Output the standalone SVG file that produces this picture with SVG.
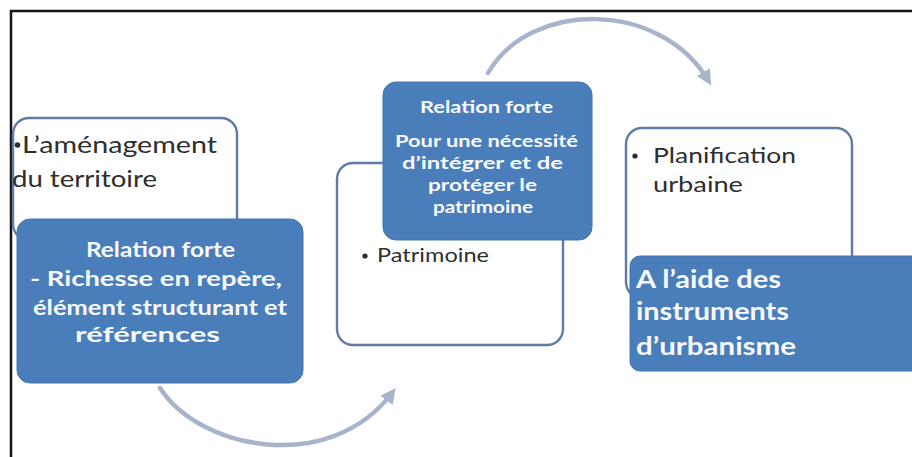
<svg xmlns="http://www.w3.org/2000/svg" width="912" height="457" viewBox="0 0 912 457">
  <defs>
    <style>
      .frame { stroke: #151515; stroke-width: 2.5; fill: none; }
      .wbox { fill: #ffffff; stroke: #5f7ca6; stroke-width: 2.4; }
      .bbox { fill: #4a7ebb; stroke: #4275b0; stroke-width: 1; }
      .wt { font-family: Lato, "Liberation Sans", sans-serif; fill: #2e2e2e; }
      .bt { font-family: Lato, "Liberation Sans", sans-serif; font-weight: bold; fill: #f7f9fc; }
      .arc { fill: none; stroke: #a9b3c9; stroke-width: 4.5; stroke-linecap: round; }
    </style>
    <marker id="ah" viewBox="0 0 10 10" refX="6" refY="5" markerWidth="3.4" markerHeight="3.4" orient="auto" markerUnits="strokeWidth">
      <path d="M0,0 L10,5 L0,10 z" fill="#a9b3c9"/>
    </marker>
  </defs>

  <rect width="912" height="457" fill="#ffffff"/>
  <path class="frame" d="M11,457 L11,11 L912,11"/>

  <g id="connectors">
    <path class="arc" d="M160,388 C200,450 330,475 392,393" marker-end="url(#ah)"/>
    <path class="arc" d="M488,73 C530,0 660,0 708,80" marker-end="url(#ah)"/>
  </g>

  <g id="node-amenagement">
    <rect class="wbox" x="13" y="118" width="224" height="122" rx="16"/>
    <circle cx="17.5" cy="145" r="2.8" fill="#2e2e2e"/>
    <text class="wt" x="22" y="153" font-size="24" textLength="195" lengthAdjust="spacingAndGlyphs">L’aménagement</text>
    <text class="wt" x="12" y="187" font-size="24" textLength="145" lengthAdjust="spacingAndGlyphs">du territoire</text>
  </g>

  <g id="node-relation1">
    <rect class="bbox" x="17" y="219" width="286" height="164" rx="13"/>
    <text class="bt" x="86" y="257" font-size="21" textLength="149" lengthAdjust="spacingAndGlyphs">Relation forte</text>
    <text class="bt" x="30" y="286" font-size="21" textLength="252" lengthAdjust="spacingAndGlyphs">- Richesse en repère,</text>
    <text class="bt" x="33" y="315" font-size="21" textLength="254" lengthAdjust="spacingAndGlyphs">élément structurant et</text>
    <text class="bt" x="75" y="342" font-size="21" textLength="145" lengthAdjust="spacingAndGlyphs">références</text>
  </g>

  <g id="node-patrimoine">
    <rect class="wbox" x="337" y="163" width="226" height="182" rx="16"/>
    <circle cx="365" cy="256" r="2.6" fill="#2e2e2e"/>
    <text class="wt" x="377" y="262" font-size="19" textLength="112" lengthAdjust="spacingAndGlyphs">Patrimoine</text>
  </g>

  <g id="node-relation2">
    <rect class="bbox" x="383" y="82" width="209" height="158" rx="13"/>
    <text class="bt" x="420" y="113" font-size="17" textLength="133" lengthAdjust="spacingAndGlyphs">Relation forte</text>
    <text class="bt" x="395" y="147" font-size="17" textLength="183" lengthAdjust="spacingAndGlyphs">Pour une nécessité</text>
    <text class="bt" x="402" y="169" font-size="17" textLength="161" lengthAdjust="spacingAndGlyphs">d’intégrer et de</text>
    <text class="bt" x="428" y="191" font-size="17" textLength="109" lengthAdjust="spacingAndGlyphs">protéger le</text>
    <text class="bt" x="433" y="213" font-size="17" textLength="100" lengthAdjust="spacingAndGlyphs">patrimoine</text>
  </g>

  <g id="node-planification">
    <rect class="wbox" x="626" y="128" width="226" height="170" rx="16"/>
    <circle cx="635" cy="156" r="2.6" fill="#2e2e2e"/>
    <text class="wt" x="653" y="163" font-size="22" textLength="143" lengthAdjust="spacingAndGlyphs">Planification</text>
    <text class="wt" x="653" y="192" font-size="22" textLength="90" lengthAdjust="spacingAndGlyphs">urbaine</text>
  </g>

  <g id="node-instruments">
    <rect class="bbox" x="630" y="256" width="300" height="115" rx="10"/>
    <text class="bt" x="636" y="288" font-size="25" textLength="145" lengthAdjust="spacingAndGlyphs">A l’aide des</text>
    <text class="bt" x="636" y="320" font-size="25" textLength="153" lengthAdjust="spacingAndGlyphs">instruments</text>
    <text class="bt" x="636" y="355" font-size="25" textLength="160" lengthAdjust="spacingAndGlyphs">d’urbanisme</text>
  </g>
</svg>
